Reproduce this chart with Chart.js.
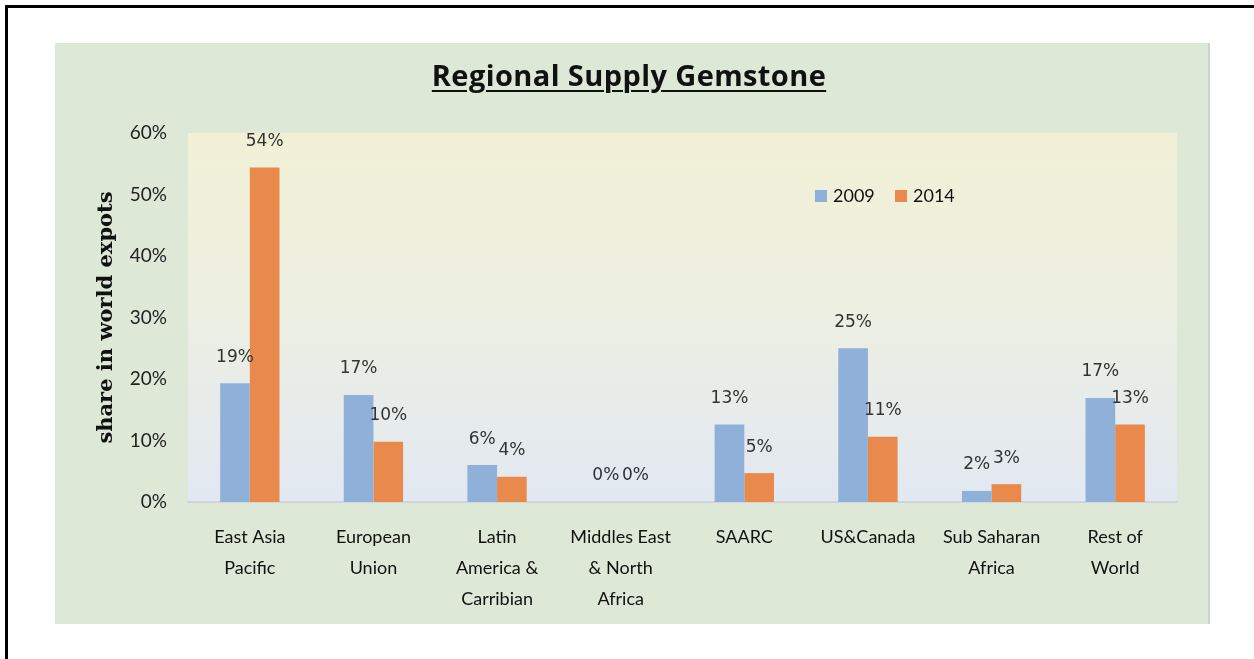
<!DOCTYPE html>
<html>
<head>
<meta charset="utf-8">
<script src="https://cdn.jsdelivr.net/npm/chart.js@4.4.1/dist/chart.umd.min.js"></script>
<style>
  html, body { margin: 0; padding: 0; background: #fff; width: 1254px; height: 659px; overflow: hidden; }
  .frame { position: absolute; left: 5px; top: 5px; width: 1400px; height: 800px; border-top: 3px solid #000; border-left: 3px solid #000; }
  .panel { position: absolute; left: 55px; top: 43px; width: 1153px; height: 581px; background: #dde8d6; border-right: 2px solid #cdd2cc; }
  .title { position: absolute; left: 0; width: 1258px; top: 55px; text-align: center; font-family: "Open Sans", sans-serif; font-weight: 700; font-size: 29px; letter-spacing: 0.4px; color: #111; text-decoration: underline; text-decoration-thickness: 2px; text-underline-offset: 4px; }
  canvas { position: absolute; left: 0; top: 0; }
</style>
</head>
<body>
<div class="frame"></div>
<div class="panel">
  <canvas id="supplyChart" width="1153" height="581"></canvas>
</div>
<div class="title">Regional Supply Gemstone</div>

<script>
// Chart data
const regions = [
  ['East Asia', 'Pacific'],
  ['European', 'Union'],
  ['Latin', 'America &', 'Carribian'],
  ['Middles East', '& North', 'Africa'],
  ['SAARC'],
  ['US&Canada'],
  ['Sub Saharan', 'Africa'],
  ['Rest of', 'World']
];
const seriesNames = ['2009', '2014'];
const share2009 = [19.3, 17.4, 6.0, 0, 12.6, 25.0, 1.8, 16.9];
const share2014 = [54.4, 9.8, 4.1, 0, 4.7, 10.6, 2.9, 12.6];
const yTicks = [0, 10, 20, 30, 40, 50, 60];

const blue = '#8fb0d9';
const orange = '#ea894c';

// plot area gradient (cream at top, pale blue at bottom)
const plotBackground = {
  id: 'plotBackground',
  beforeDraw(chart) {
    const { ctx, chartArea: a } = chart;
    const g = ctx.createLinearGradient(0, a.top, 0, a.bottom);
    g.addColorStop(0, '#f2f0d6');
    g.addColorStop(0.5, '#ecefe2');
    g.addColorStop(1, '#e2e8f2');
    ctx.save();
    ctx.fillStyle = g;
    ctx.fillRect(a.left, a.top, a.right - a.left, a.bottom - a.top);
    ctx.restore();
  }
};

// value labels above each bar
const barLabels = {
  id: 'barLabels',
  afterDatasetsDraw(chart) {
    const ctx = chart.ctx;
    ctx.save();
    ctx.font = '17px "DejaVu Sans", sans-serif';
    ctx.fillStyle = '#333';
    ctx.textAlign = 'center';
    ctx.textBaseline = 'middle';
    chart.data.datasets.forEach((ds, i) => {
      chart.getDatasetMeta(i).data.forEach((bar, j) => {
        ctx.fillText(Math.round(ds.data[j]) + '%', bar.x, bar.y - 26);
      });
    });
    ctx.restore();
  }
};

// legend sits inside the plot, right of centre
const innerLegend = {
  id: 'innerLegend',
  afterDraw(chart) {
    const { ctx, chartArea: a } = chart;
    let x = a.left + 627;
    const y = a.top + 57;
    ctx.save();
    ctx.font = '18px Lato, sans-serif';
    ctx.textBaseline = 'middle';
    chart.data.datasets.forEach(ds => {
      ctx.fillStyle = ds.backgroundColor;
      ctx.fillRect(x, y, 12, 12);
      ctx.fillStyle = '#111';
      ctx.fillText(ds.label, x + 18, y + 6);
      x += 80;
    });
    ctx.restore();
  }
};

const ctx = document.getElementById('supplyChart').getContext('2d');
const supplyChart = new Chart(ctx, {
  type: 'bar',
  data: {
    labels: regions,
    datasets: [
      { label: seriesNames[0], data: share2009, backgroundColor: blue },
      { label: seriesNames[1], data: share2014, backgroundColor: orange }
    ]
  },
  options: {
    responsive: false,
    animation: false,
    datasets: {
      bar: { categoryPercentage: 0.48, barPercentage: 1.0 }
    },
    layout: {
      padding: { left: 39, right: 31, top: 90, bottom: 0 }
    },
    plugins: {
      legend: { display: false },
      title: { display: false },
      tooltip: { enabled: false }
    },
    scales: {
      x: {
        grid: { display: false, drawTicks: false },
        border: { display: true, color: '#cfd5db', width: 2 },
        ticks: {
          padding: 20,
          maxRotation: 0,
          autoSkip: false,
          color: '#111',
          font: { family: 'Lato', size: 18, lineHeight: 1.72 }
        },
        afterFit(scale) { scale.height = 122; }
      },
      y: {
        min: 0,
        max: 60,
        afterBuildTicks(scale) { scale.ticks = yTicks.map(v => ({ value: v })); },
        grid: { display: false, drawTicks: false },
        border: { display: false },
        ticks: {
          padding: 21,
          color: '#222',
          font: { family: 'Lato', size: 19 },
          callback: v => v + '%'
        },
        title: {
          display: true,
          text: 'share in world expots',
          color: '#111',
          padding: 0,
          font: { family: 'DejaVu Serif', size: 21, weight: 'bold' }
        },
        afterFit(scale) { scale.width = 94; }
      }
    }
  },
  plugins: [plotBackground, barLabels, innerLegend]
});
</script>
</body>
</html>
